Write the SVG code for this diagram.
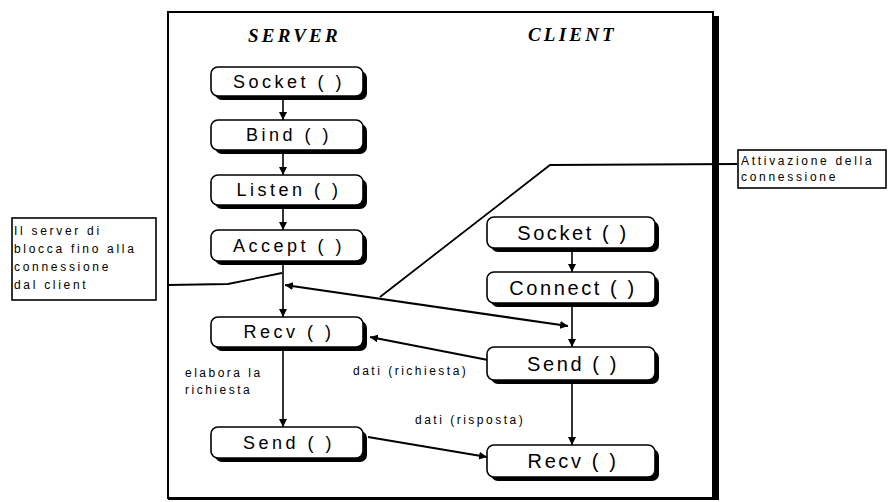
<svg xmlns="http://www.w3.org/2000/svg" width="888" height="502" viewBox="0 0 888 502">
  <style>
    .shadow { fill: #000; }
    .box { fill: #fff; stroke: #000; stroke-width: 1.6; }
    .srv { font-family: "Liberation Sans", Arial, sans-serif; font-size: 18px; letter-spacing: 3.5px; text-anchor: middle; fill: #000; }
    .cli { font-family: "Liberation Sans", Arial, sans-serif; font-size: 20px; letter-spacing: 2.6px; text-anchor: middle; fill: #000; }
    .title { font-family: "Liberation Serif", "Times New Roman", serif; font-size: 19px; font-weight: bold; font-style: italic; letter-spacing: 3.2px; fill: #000; }
    .note { font-family: "Liberation Sans", Arial, sans-serif; font-size: 12px; letter-spacing: 2.7px; fill: #000; }
    .lbl { font-family: "Liberation Sans", Arial, sans-serif; font-size: 12px; letter-spacing: 2.5px; fill: #000; }
    .flow { stroke: #000; stroke-width: 1.6; fill: none; }
    .msg { stroke: #000; stroke-width: 2.2; fill: none; }
    .lead { stroke: #000; stroke-width: 1.8; fill: none; }
    .callout { fill: #fff; stroke: #000; stroke-width: 1.6; }
  </style>
  <defs>
    <marker id="ah" viewBox="0 0 10 10" refX="10" refY="5" markerWidth="8" markerHeight="8" markerUnits="userSpaceOnUse" orient="auto-start-reverse">
      <path d="M0,0 L10,5 L0,10 Z" fill="#000"/>
    </marker>
  </defs>

  <rect width="888" height="502" fill="#fff"/>

  <!-- outer frame with heavy right/bottom edge -->
  <g id="frame">
    <rect x="168" y="12" width="545" height="486" fill="none" stroke="#000" stroke-width="2"/>
    <rect x="712" y="16" width="7" height="484" fill="#000"/>
    <rect x="168" y="497" width="551" height="3" fill="#000"/>
    <text class="title" x="248" y="42">SERVER</text>
    <text class="title" x="528" y="41">CLIENT</text>
  </g>

  <!-- connectors -->
  <g id="connectors">
    <!-- server sequence -->
    <line class="flow" x1="283" y1="96" x2="283" y2="120" marker-end="url(#ah)"/>
    <line class="flow" x1="283" y1="150" x2="283" y2="175" marker-end="url(#ah)"/>
    <line class="flow" x1="283" y1="205" x2="283" y2="230" marker-end="url(#ah)"/>
    <line class="flow" x1="283" y1="261" x2="283" y2="317" marker-end="url(#ah)"/>
    <line class="flow" x1="283" y1="347" x2="283" y2="427" marker-end="url(#ah)"/>
    <!-- client sequence -->
    <line class="flow" x1="572" y1="248" x2="572" y2="272" marker-end="url(#ah)"/>
    <line class="flow" x1="572" y1="303" x2="572" y2="347" marker-end="url(#ah)"/>
    <line class="flow" x1="572" y1="380" x2="572" y2="445" marker-end="url(#ah)"/>
    <!-- connection handshake -->
    <line class="msg" x1="285" y1="285" x2="568" y2="326" marker-start="url(#ah)" marker-end="url(#ah)"/>
    <!-- request data -->
    <line class="msg" x1="488" y1="360" x2="370" y2="337" marker-end="url(#ah)"/>
    <!-- response data -->
    <line class="msg" x1="368" y1="437" x2="487" y2="457" marker-end="url(#ah)"/>
    <!-- callout leaders -->
    <polyline class="lead" points="168,285 228,284 282,273"/>
    <polyline class="lead" points="380,297 550,165 737,164"/>
  </g>

  <!-- server nodes -->
  <g id="srv-socket">
    <rect class="shadow" x="215" y="71" width="152" height="29" rx="7"/>
    <rect class="box" x="211" y="67" width="152" height="29" rx="7"/>
    <text class="srv" x="289" y="88">Socket ( )</text>
  </g>
  <g id="srv-bind">
    <rect class="shadow" x="215" y="124" width="152" height="30" rx="7"/>
    <rect class="box" x="211" y="120" width="152" height="30" rx="7"/>
    <text class="srv" x="289" y="141">Bind ( )</text>
  </g>
  <g id="srv-listen">
    <rect class="shadow" x="215" y="179" width="152" height="30" rx="7"/>
    <rect class="box" x="211" y="175" width="152" height="30" rx="7"/>
    <text class="srv" x="289" y="196">Listen ( )</text>
  </g>
  <g id="srv-accept">
    <rect class="shadow" x="215" y="234" width="152" height="31" rx="7"/>
    <rect class="box" x="211" y="230" width="152" height="31" rx="7"/>
    <text class="srv" x="289" y="252">Accept ( )</text>
  </g>
  <g id="srv-recv">
    <rect class="shadow" x="215" y="321" width="152" height="30" rx="7"/>
    <rect class="box" x="211" y="317" width="152" height="30" rx="7"/>
    <text class="srv" x="289" y="338">Recv ( )</text>
  </g>
  <g id="srv-send">
    <rect class="shadow" x="215" y="431" width="152" height="31" rx="7"/>
    <rect class="box" x="211" y="427" width="152" height="31" rx="7"/>
    <text class="srv" x="289" y="449">Send ( )</text>
  </g>

  <!-- client nodes -->
  <g id="cli-socket">
    <rect class="shadow" x="491" y="221" width="168" height="31" rx="7"/>
    <rect class="box" x="487" y="217" width="168" height="31" rx="7"/>
    <text class="cli" x="573" y="240">Socket ( )</text>
  </g>
  <g id="cli-connect">
    <rect class="shadow" x="491" y="276" width="168" height="31" rx="7"/>
    <rect class="box" x="487" y="272" width="168" height="31" rx="7"/>
    <text class="cli" x="573" y="295">Connect ( )</text>
  </g>
  <g id="cli-send">
    <rect class="shadow" x="491" y="351" width="168" height="33" rx="7"/>
    <rect class="box" x="487" y="347" width="168" height="33" rx="7"/>
    <text class="cli" x="573" y="371">Send ( )</text>
  </g>
  <g id="cli-recv">
    <rect class="shadow" x="491" y="449" width="168" height="32" rx="7"/>
    <rect class="box" x="487" y="445" width="168" height="32" rx="7"/>
    <text class="cli" x="573" y="468">Recv ( )</text>
  </g>

  <!-- edge labels -->
  <g id="labels">
    <text class="lbl" x="185" y="377">elabora la</text>
    <text class="lbl" x="185" y="394">richiesta</text>
    <text class="lbl" x="353" y="375">dati (richiesta)</text>
    <text class="lbl" x="415" y="424">dati (risposta)</text>
  </g>

  <!-- callouts -->
  <g id="note-block">
    <rect class="callout" x="12" y="218" width="144" height="82"/>
    <text class="note" x="14" y="235">Il server di</text>
    <text class="note" x="14" y="253">blocca fino alla</text>
    <text class="note" x="14" y="271">connessione</text>
    <text class="note" x="14" y="289">dal client</text>
  </g>
  <g id="note-connect">
    <rect class="callout" x="738" y="150" width="148" height="38"/>
    <text class="note" x="741" y="165">Attivazione della</text>
    <text class="note" x="741" y="181">connessione</text>
  </g>
</svg>
